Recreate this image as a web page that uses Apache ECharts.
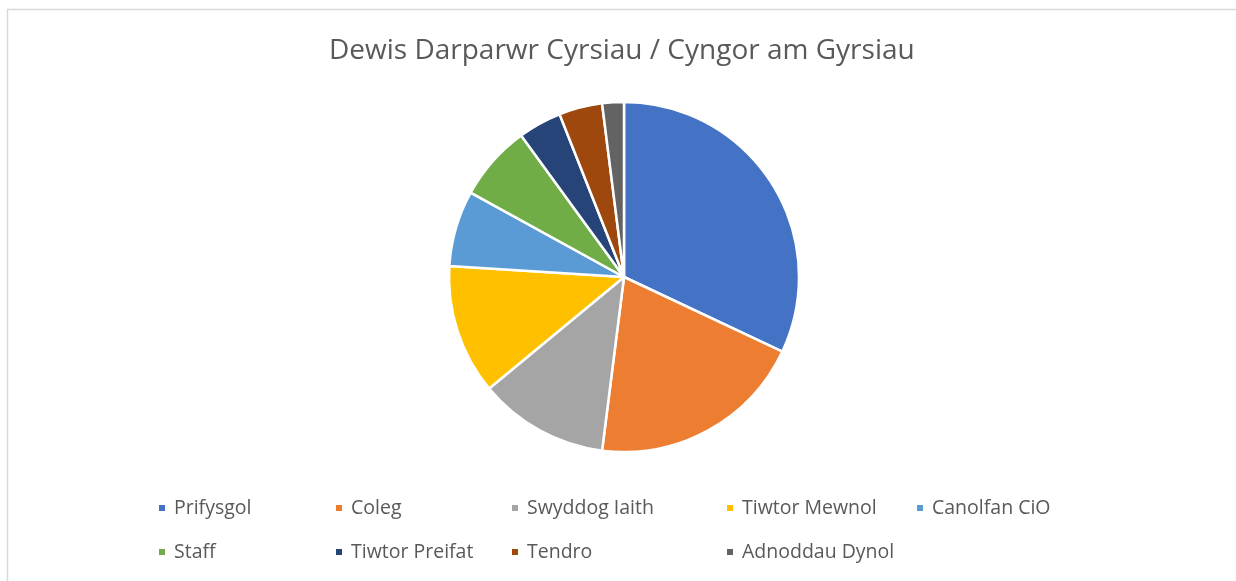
<!DOCTYPE html>
<html>
<head>
<meta charset="utf-8">
<script src="https://cdn.jsdelivr.net/npm/echarts@6/dist/echarts.min.js"></script>
<style>
  html, body { margin: 0; padding: 0; background: #fff; }
  #chart { width: 1236px; height: 581px; }
</style>
</head>
<body>
<div id="chart"></div>
<script>
// categories and values (percent)
var names = ['Prifysgol', 'Coleg', 'Swyddog Iaith', 'Tiwtor Mewnol', 'Canolfan CiO',
  'Staff', 'Tiwtor Preifat', 'Tendro', 'Adnoddau Dynol'];
var values = [32, 20, 12, 12, 7, 7, 4, 4, 2];
var colors = ['#4472C4', '#ED7D31', '#A5A5A5', '#FFC000', '#5B9BD5',
  '#70AD47', '#264478', '#9E480E', '#636363'];

// legend column / row placement (styling only)
var legendLeft = [157, 334, 510, 725, 915, 157, 334, 510, 725];
var legendTop = [496, 496, 496, 496, 496, 540, 540, 540, 540];

var font = '"Open Sans", "Noto Sans", sans-serif';

var chart = echarts.init(document.getElementById('chart'));

var legends = names.map(function (n, i) {
  return {
    data: [n],
    left: legendLeft[i],
    top: legendTop[i],
    padding: 0,
    icon: 'rect',
    itemWidth: 8,
    itemHeight: 8,
    selectedMode: false,
    textStyle: {
      fontFamily: font,
      fontSize: 19.5,
      color: '#595959',
      lineHeight: 24,
      padding: [0, 0, 0, 3]
    }
  };
});

var option = {
  animation: false,
  color: colors,
  title: {
    text: 'Dewis Darparwr Cyrsiau / Cyngor am Gyrsiau',
    left: 329,
    top: 37,
    padding: 0,
    textStyle: {
      fontFamily: font,
      fontSize: 28,
      fontWeight: 'normal',
      color: '#595959'
    }
  },
  graphic: [{
    type: 'rect',
    shape: { x: 7.5, y: 9.5, width: 1400, height: 800 },
    style: { fill: 'none', stroke: '#d9d9d9', lineWidth: 1.5 },
    silent: true
  }],
  legend: legends,
  series: [{
    type: 'pie',
    center: [624, 277],
    radius: 175,
    startAngle: 90,
    clockwise: true,
    label: { show: false },
    labelLine: { show: false },
    emphasis: { disabled: true },
    itemStyle: { borderColor: '#fff', borderWidth: 2.5 },
    data: names.map(function (n, i) {
      return { name: n, value: values[i] };
    })
  }]
};

chart.setOption(option);
</script>
</body>
</html>
